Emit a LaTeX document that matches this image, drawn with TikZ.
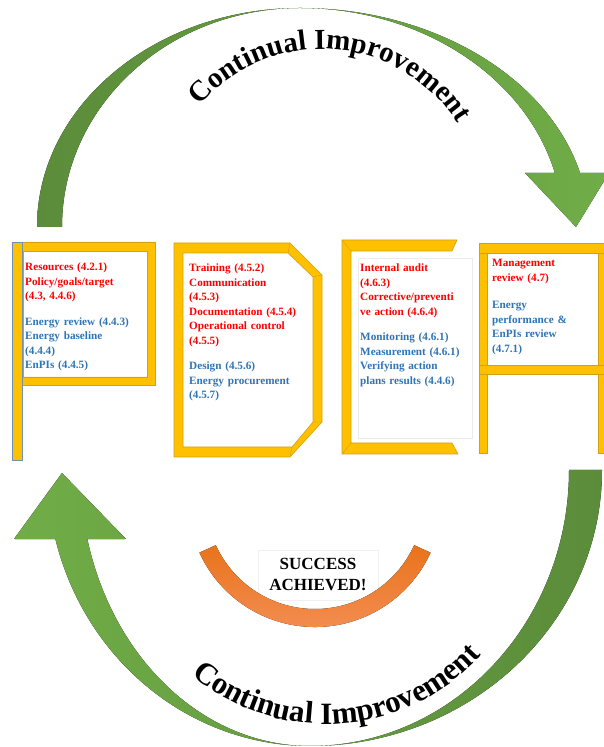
\documentclass[tikz,border=0pt]{standalone}
\usepackage{fontspec}
\setmainfont{Liberation Serif}
\usetikzlibrary{calc,decorations.text}
\definecolor{pdgold}{HTML}{FFC000}
\definecolor{pdedge}{HTML}{D4A017}
\definecolor{pdred}{HTML}{FF0000}
\definecolor{pdblue}{HTML}{2E75B6}
\definecolor{grdark}{HTML}{5B8C3A}
\definecolor{grlight}{HTML}{70AD47}
\definecolor{orgdark}{HTML}{E9731C}
\definecolor{orglight}{HTML}{F4925A}
\definecolor{polerim}{HTML}{6F8FB3}

\begin{document}
\begin{tikzpicture}[x=1pt,y=1pt,
    gold/.style={fill=pdgold,draw=pdedge,line width=0.6pt},
    txt/.style={anchor=north west,inner sep=0pt,text width=#1,align=left,font=\fontsize{11.2}{14.5}\selectfont\bfseries},
    ci/.style={decorate,decoration={text along path,text align=center,text={|\fontsize{#1}{30}\selectfont\bfseries|Continual Improvement}}}]
    \useasboundingbox (0,0) rectangle (603,747);
    \coordinate(T) at (300,520);
    \coordinate(B) at (310,277);
    \coordinate(O) at (315,247);
    % green arrows
    \fill[left color=grdark,right color=grlight]
      (37,520) arc[start angle=180,end angle=90,x radius=263,y radius=219]
      arc[start angle=90,end angle=14.3,x radius=289,y radius=219]
      -- (609,574) -- (576,520) -- (525,574)
      -- ($(T)+(14.3:263 and 219)$) arc[start angle=14.3,end angle=90,x radius=263,y radius=219]
      arc[start angle=90,end angle=180,x radius=238,y radius=219] -- cycle;
    \fill[left color=grlight,right color=grdark]
      (14,208) -- (62,274) -- (126,208) -- ($(B)+(194.5:230 and 276)$)
      arc[start angle=194.5,end angle=270,x radius=230,y radius=276]
      arc[start angle=270,end angle=360,x radius=259,y radius=276]
      -- ($(B)+(0:292 and 276)$)
      arc[start angle=0,end angle=-90,x radius=292,y radius=276]
      arc[start angle=-90,end angle=-165.5,x radius=263,y radius=276] -- cycle;
    \path[ci=29] ($(322,538)+(160:160)$) arc[start angle=160,end angle=12,radius=160];
    \path[ci=31] ($(326,232)+(197:209)$) arc[start angle=197,end angle=351,radius=209];
    % P
    \filldraw[gold,even odd rule] (22,362) rectangle (155,505) (23,370) rectangle (147,496);
    \filldraw[fill=pdgold,draw=polerim,line width=0.8pt] (12,287) rectangle (22,505);
    % D
    \filldraw[gold,even odd rule] (174,504) -- (290,504) -- (322,472) -- (322,325) -- (290,290) -- (174,290) -- cycle
      (183,494) -- (288,494) -- (313,470) -- (313,325) -- (292,300) -- (183,300) -- cycle;
    \draw[pdedge] (290,504) -- (288,494) (322,472) -- (313,470) (322,325) -- (313,325) (290,290) -- (292,300);
    % C
    \filldraw[gold] (342,507) -- (457,507) -- (452,496) -- (351,496) -- (351,304) -- (452,304) -- (458,293) -- (342,293) -- cycle;
    \draw[pdedge] (342,507) -- (351,496) (342,293) -- (351,304);
    \filldraw[fill=white,draw=gray!15] (358,309) rectangle (472,489);
    % A
    \filldraw[fill=white,draw=gray!20] (487,382) rectangle (598,494);
    \filldraw[gold] (479,294) rectangle (487,504);
    \filldraw[gold] (598,294) rectangle (606,504);
    \filldraw[gold] (479,494) rectangle (606,504);
    \filldraw[gold] (479,373) rectangle (606,382);
    % texts
    \node[txt=150pt] (plan) at (25,484) {\color{pdred}Resources (4.2.1)\\Policy/goals/target\\(4.3, 4.4.6)\\[11pt]
      \color{pdblue}Energy review (4.4.3)\\Energy baseline\\(4.4.4)\\EnPIs (4.4.5)};
    \node[txt=150pt] (do) at (189,483) {\color{pdred}Training (4.5.2)\\Communication\\(4.5.3)\\Documentation (4.5.4)\\Operational control\\(4.5.5)\\[11pt]
      \color{pdblue}Design (4.5.6)\\Energy procurement\\(4.5.7)};
    \node[txt=150pt] (check) at (360,483) {\color{pdred}Internal audit\\(4.6.3)\\Corrective/preventi\\ve action (4.6.4)\\[11pt]
      \color{pdblue}Monitoring (4.6.1)\\Measurement (4.6.1)\\Verifying action\\plans results (4.4.6)};
    \node[txt=150pt] (act) at (492,488) {\color{pdred}Management\\review (4.7)\\[13pt]
      \color{pdblue}Energy\\performance \&\\EnPIs review\\(4.7.1)};
    % success
    \node[draw=gray!12,fill=white,inner sep=0pt,minimum width=120pt,minimum height=50pt,align=center,
      font=\fontsize{17}{21}\selectfont\bfseries] (win) at (318,172) {SUCCESS\\ACHIEVED!};
    \fill[top color=orgdark,bottom color=orglight]
      ($(O)+(204.5:127)$) arc[start angle=204.5,end angle=335.5,radius=127]
      -- ($(O)+(335.5:109)$) arc[start angle=335.5,end angle=204.5,radius=109] -- cycle;
  \end{tikzpicture}
\end{document}
